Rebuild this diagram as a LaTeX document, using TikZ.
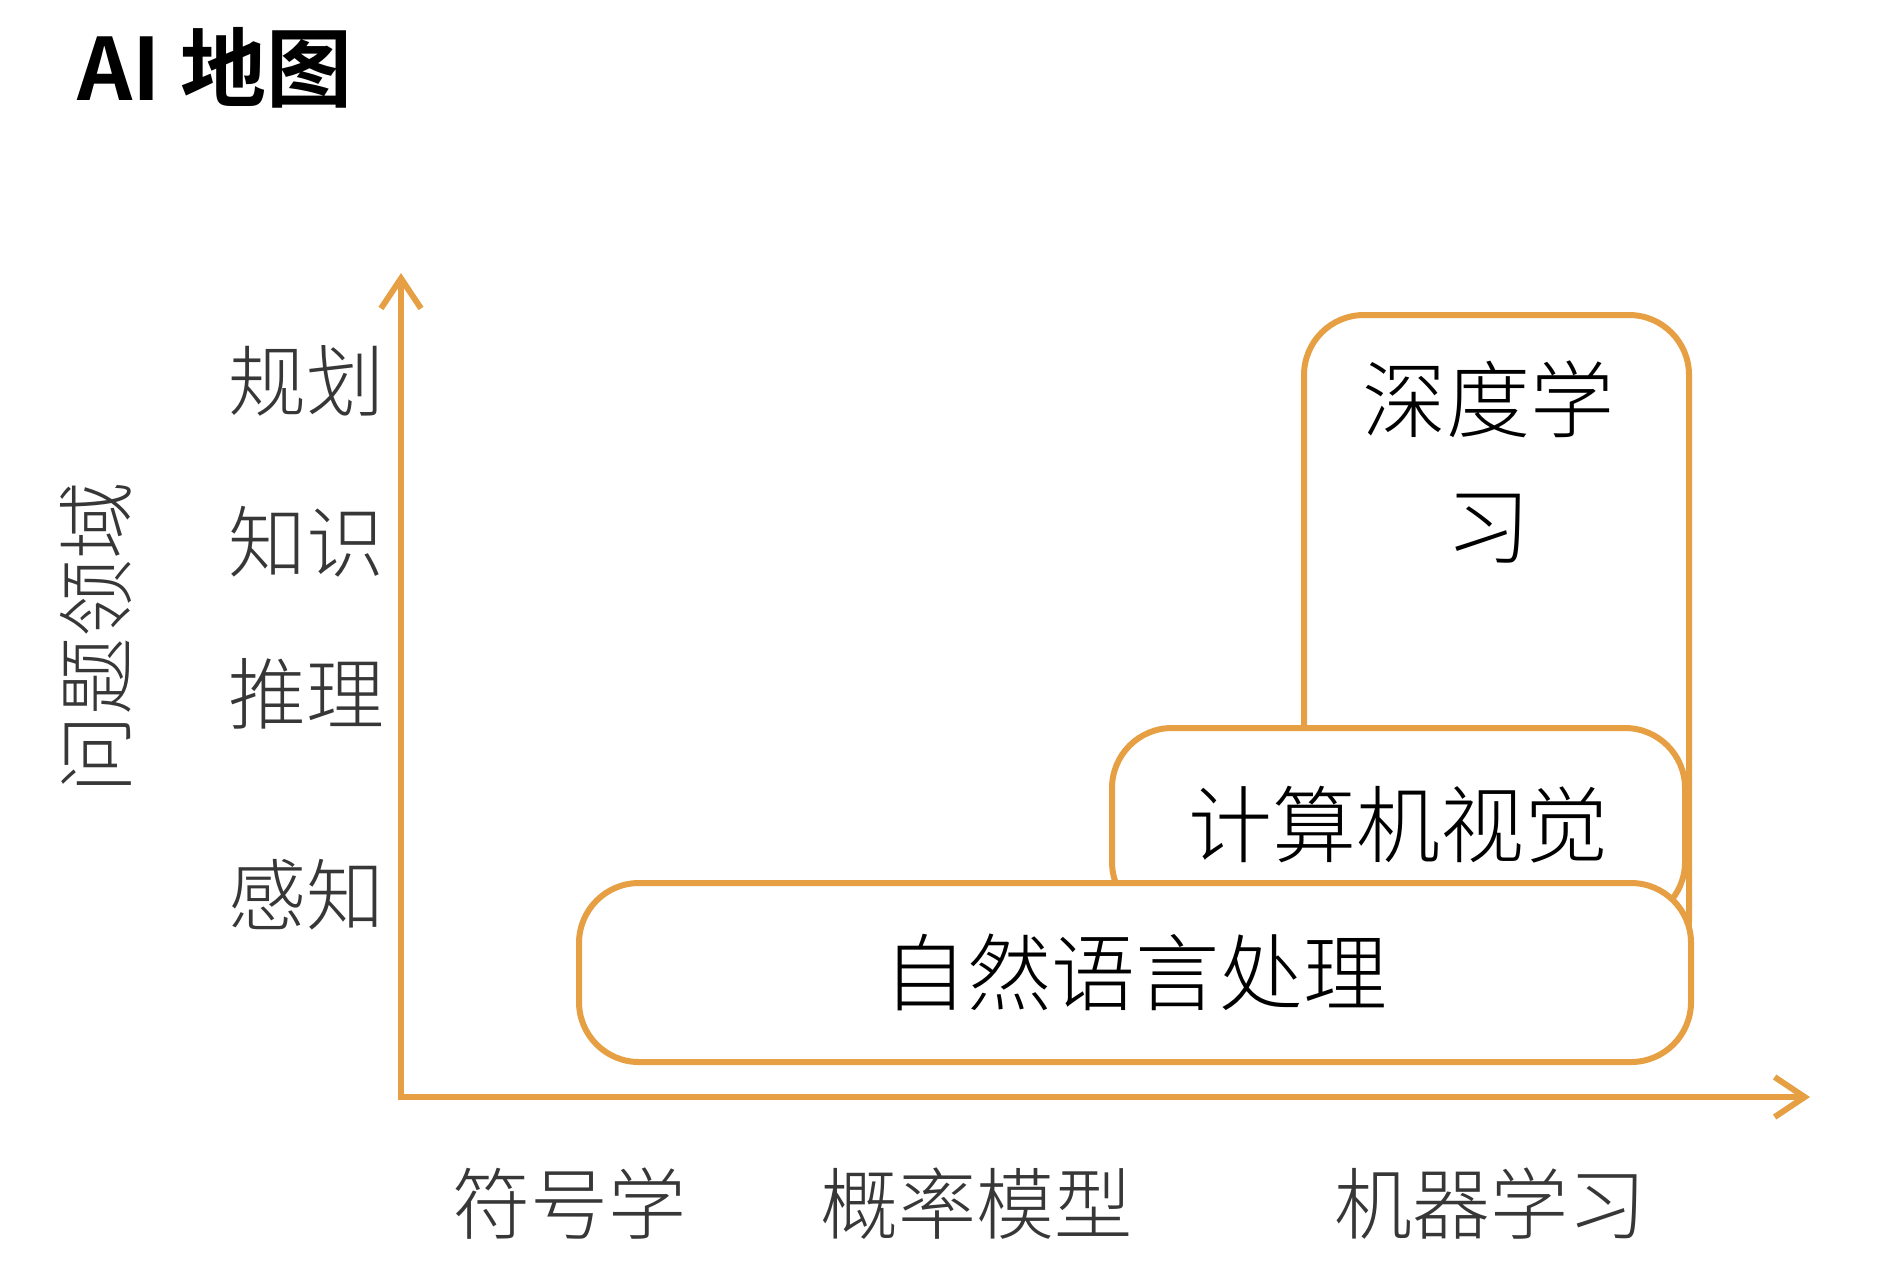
\documentclass[tikz,border=0pt]{standalone}
\usepackage{fontspec}
\newfontfamily\cjk{Noto Sans CJK SC}[UprightFont=* Light, BoldFont=* Bold]
\usetikzlibrary{arrows.meta}
\definecolor{aiorange}{RGB}{230,160,67}
\definecolor{labgray}{RGB}{55,55,55}

\begin{document}
\begin{tikzpicture}[x=0.5pt, y=-0.5pt,
    box/.style  = {draw=aiorange, line width=3pt, fill=white, rounded corners=30pt, inner sep=0pt, font=\cjk\fontsize{42}{63}\selectfont},
    lab/.style  = {inner sep=0pt, text=labgray, font=\cjk\fontsize{39}{47}\selectfont},
    axis/.style = {draw=aiorange, line width=3pt, {Straight Barb[length=15pt,width=20pt]}-{Straight Barb[length=15pt,width=20pt]}}]
    \useasboundingbox (0,0) rectangle (1877,1276);
    % title
    \node[anchor=west, inner sep=0pt, font=\cjk\bfseries\fontsize{43}{52}\selectfont] (title) at (77,68) {AI 地图};
    % axes
    \coordinate (ytip) at (401,273);
    \coordinate (orig) at (401,1097);
    \coordinate (xtip) at (1810,1097);
    \draw[axis] (ytip) -- (orig) -- (xtip);
    % boxes, back to front
    \node[box, minimum width=192.5pt, minimum height=332.5pt] (dl) at (1496.5,647.5) {};
    \node[box, minimum width=286.5pt, minimum height=97pt] (cv) at (1398.5,825) {计算机视觉};
    \node[box, minimum width=556pt, minimum height=89.5pt] (nlp) at (1135,972.5) {自然语言处理};
    \node[inner sep=0pt, align=center, font=\cjk\fontsize{42}{63}\selectfont] (dltext) at (1488,462) {深度学\\习};
    % problem domains
    \node[lab] (plan) at (306,381) {规划};
    \node[lab] (know) at (306,542) {知识};
    \node[lab] (reason) at (306,694) {推理};
    \node[lab] (percep) at (306,895) {感知};
    \node[lab, rotate=90] (domain) at (96,637) {问题领域};
    % methods
    \node[lab] (symb) at (569,1204) {符号学};
    \node[lab] (prob) at (976,1204) {概率模型};
    \node[lab] (ml) at (1490,1204) {机器学习};
\end{tikzpicture}
\end{document}
